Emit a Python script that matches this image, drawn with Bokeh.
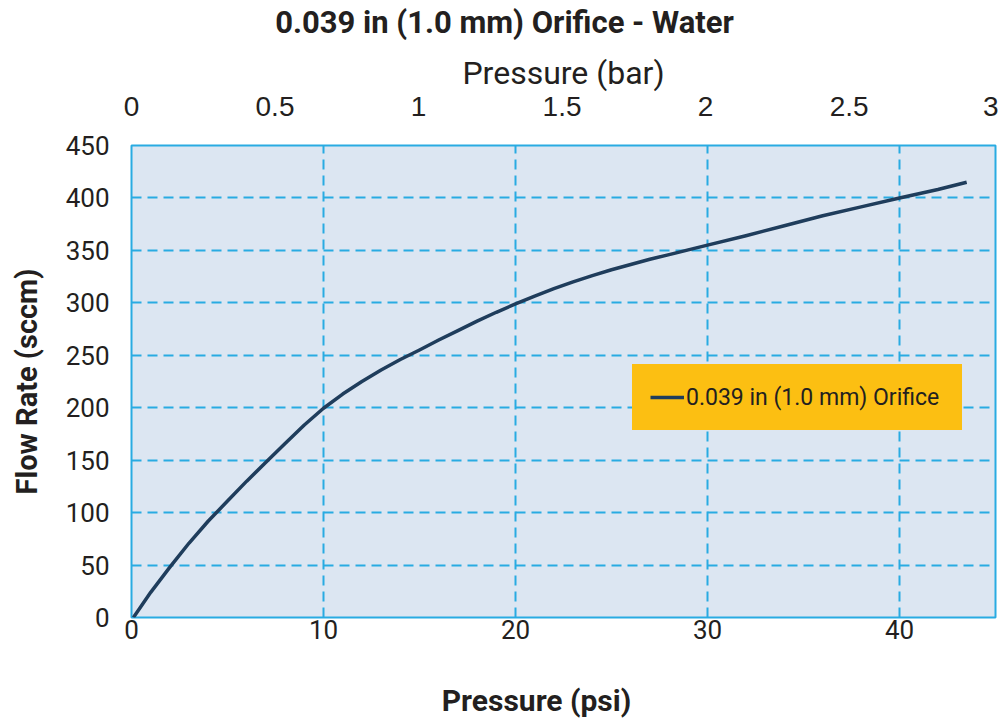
from bokeh.plotting import figure
from bokeh.layouts import column
from bokeh.models import Range1d, LinearAxis, FixedTicker, Legend, LegendItem
from bokeh.core.properties import value
from bokeh.embed import file_html
from bokeh.resources import INLINE

# Data
pressure_psi = [0.1, 1, 2, 3, 4, 5, 6, 7, 8, 9, 10, 11, 12, 13, 14, 15, 16, 17, 18, 19, 20,
                21, 22, 23, 24, 25, 26, 27, 28, 29, 30, 32, 34, 36, 38, 40, 42, 43.5]
flow_sccm = [0, 24, 48, 71, 92, 111, 130, 148, 166, 183.5, 199.5, 213, 225, 236, 246, 255, 264.5, 273.5, 282.5, 291, 299,
             306.5, 313.5, 320, 326, 331.5, 336.5, 341.5, 346, 350.5, 355, 364, 373.5, 383, 391.5, 400, 408, 415]
psi_ticks = [0, 10, 20, 30, 40]
bar_ticks = [0, 0.5, 1, 1.5, 2, 2.5, 3]
flow_ticks = [0, 50, 100, 150, 200, 250, 300, 350, 400, 450]
series_name = "0.039 in (1.0 mm) Orifice"
chart_title = "0.039 in (1.0 mm) Orifice - Water"
x_title = "Pressure (psi)"

TEXT = "#231F20"
BLUE = "#29ABE2"
FONT = "Roboto"
W = 998
FRAME_L, FRAME_R = 131, 995


def text_strip(height, text, cx, cy_from_top, size):
    # the column aligns this strip's frame with the main plot's frame, so use page pixels
    f = figure(width=W, height=height, output_backend="svg", toolbar_location=None,
               x_range=Range1d(FRAME_L, FRAME_R), y_range=Range1d(0, height),
               min_border=0, x_axis_location=None, y_axis_location=None)
    f.outline_line_color = None
    f.grid.visible = False
    f.background_fill_color = "white"
    f.border_fill_color = "white"
    f.text(x=[cx], y=[height - cy_from_top], text=[text], text_align="center", text_baseline="middle",
           text_font=value(FONT), text_font_size=size, text_font_style="bold", text_color=TEXT)
    return f


title_fig = text_strip(42, chart_title, 504, 22, "31px")

p = figure(width=W, height=638, output_backend="svg", toolbar_location=None,
           x_range=Range1d(0, 45), y_range=Range1d(0, 450),
           min_border_left=FRAME_L, min_border_right=W - FRAME_R, min_border_top=103, min_border_bottom=63,
           x_axis_location=None, y_axis_location=None)

p.background_fill_color = "#DCE6F2"
p.border_fill_color = "white"
p.outline_line_color = BLUE
p.outline_line_width = 2

# axes
xax = LinearAxis(ticker=FixedTicker(ticks=psi_ticks))
yax = LinearAxis(ticker=FixedTicker(ticks=flow_ticks), axis_label="Flow Rate (sccm)")
p.extra_x_ranges = {"bar": Range1d(0, 3.01)}
top = LinearAxis(x_range_name="bar", ticker=FixedTicker(ticks=bar_ticks), axis_label="Pressure (bar)",
                 major_label_overrides={0: "0", 0.5: "0.5", 1: "1", 1.5: "1.5", 2: "2", 2.5: "2.5", 3: "3"})

for ax in (xax, yax, top):
    ax.axis_line_color = None
    ax.major_tick_line_color = None
    ax.minor_tick_line_color = None
    ax.major_tick_out = 0
    ax.major_tick_in = 0
    ax.major_label_text_font = FONT
    ax.major_label_text_font_size = "26px"
    ax.major_label_text_color = TEXT
    ax.axis_label_text_font = FONT
    ax.axis_label_text_font_style = "bold"
    ax.axis_label_text_color = TEXT

xax.major_label_standoff = 2
yax.major_label_standoff = 22
yax.axis_label_standoff = 19
yax.axis_label_text_font_size = "29px"
top.major_label_text_font = "Liberation Sans"
top.major_label_text_font_size = "28px"
top.major_label_standoff = 30
top.axis_label_standoff = 2
top.axis_label_text_font_size = "32px"
top.axis_label_text_font_style = "normal"

p.add_layout(xax, "below")
p.add_layout(yax, "left")
p.add_layout(top, "above")

# grid
p.xgrid.ticker = FixedTicker(ticks=psi_ticks)
p.ygrid.ticker = FixedTicker(ticks=flow_ticks)
for g in (p.xgrid, p.ygrid):
    g.grid_line_color = BLUE
    g.grid_line_width = 2
    g.grid_line_dash = "10 6"

r = p.line(pressure_psi, flow_sccm, line_color="#1F3D5C", line_width=3.5, line_join="round")

legend = Legend(items=[LegendItem(label=series_name, renderers=[r])], location=(501, 187),
                background_fill_color="#FCBF12", background_fill_alpha=1.0,
                border_line_color="#FCBF12", border_line_width=18, border_line_join="miter",
                padding=0, margin=0, glyph_width=34, glyph_height=30,
                label_standoff=2, label_height=30, label_width=258,
                label_text_font=FONT, label_text_font_size="23px", label_text_color=TEXT)
p.add_layout(legend, "center")

xlabel_fig = text_strip(40, x_title, 536, 20, "30px")

layout = column(title_fig, p, xlabel_fig, spacing=0)

open("out.html", "w").write(file_html(layout, INLINE))
